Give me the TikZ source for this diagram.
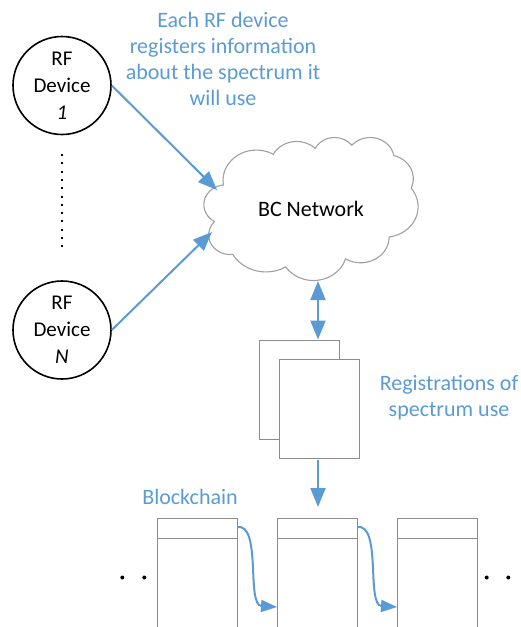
\documentclass[tikz,border=0pt]{standalone}
\usepackage{fontspec}
\setmainfont{Carlito}
\usetikzlibrary{arrows.meta}
\definecolor{ablue}{HTML}{5B9BD5}
\definecolor{pgray}{HTML}{8C8C8C}
\definecolor{cgray}{HTML}{A0A0A0}
\newcommand\mkarc[5]{%
  \pgfmathsetmacro\tmpS{atan2((#2)*sin(#4),(#3)*cos(#4))}%
  \pgfmathsetmacro\tmpE{atan2((#2)*sin((#4)+(#5)),(#3)*cos((#4)+(#5)))}%
  \pgfmathsetmacro\tmpE{\tmpE<\tmpS ? \tmpE+360 : \tmpE}%
  \expandafter\xdef\csname arcS#1\endcsname{\tmpS}%
  \expandafter\xdef\csname arcE#1\endcsname{\tmpE}}
\mkarc{a}{67.53}{91.90}{-190.4875}{123.7805}
\mkarc{b}{53.33}{72.67}{-144.1024}{89.9452}
\mkarc{c}{43.65}{59.45}{-145.8079}{99.7230}
\mkarc{d}{48.57}{65.95}{-130.9861}{117.2417}
\mkarc{e}{53.33}{72.73}{-78.7089}{109.0269}
\mkarc{f}{67.75}{92.20}{-46.2673}{130.2690}
\mkarc{g}{57.85}{78.67}{0.6250}{114.0333}
\mkarc{h}{67.52}{92.15}{22.4516}{115.1726}
\mkarc{i}{77.20}{105.43}{66.2426}{75.7110}
\mkarc{j}{43.60}{59.18}{-274.9421}{146.7356}
\mkarc{k}{43.45}{59.45}{-246.8285}{152.5189}
\newcommand\oa[3]{arc[x radius=#1,y radius=#2,start angle=\csname arcS#3\endcsname,end angle=\csname arcE#3\endcsname]}
\tikzset{
  dev/.style={circle,draw=black,line width=1.6pt,minimum size=98pt,inner sep=0pt,align=center,font=\fontsize{21}{27}\selectfont},
  conn/.style={draw=ablue,line width=2pt,-{Triangle[length=19pt,width=15pt]}},
  lbl/.style={text=ablue,align=center,font=\fontsize{22}{26}\selectfont},
  paper/.style={draw=pgray,fill=white,line width=0.9pt},
  blk/.style={draw=pgray,line width=0.9pt}
}
\begin{document}
\begin{tikzpicture}[x=1pt,y=-1pt]
\useasboundingbox (0,0) rectangle (521,627);
\clip (0,0) rectangle (521,627);
% devices
\node[dev] (d1) at (62,85.5) {RF\\Device\\\textit{1}};
\node[dev] (dn) at (62,330) {RF\\Device\\\textit{N}};
\coordinate (dt) at (62,154);
\coordinate (db) at (62,247);
\draw[line width=2pt,dash pattern=on 2pt off 6.3pt] (dt) -- (db);
% label
\node[lbl] (l1) at (223,59) {Each RF device\\registers information\\about the spectrum it\\will use};
% cloud
\begin{scope}[shift={(204,137)},x=0.4954pt,y=-0.3310pt]
\draw[draw=cgray,fill=white,line width=1.1pt] (39,143.7)
  \oa{67.53}{91.90}{a} \oa{53.33}{72.67}{b} \oa{43.65}{59.45}{c}
  \oa{48.57}{65.95}{d} \oa{53.33}{72.73}{e} \oa{67.75}{92.20}{f}
  \oa{57.85}{78.67}{g} \oa{67.52}{92.15}{h} \oa{77.20}{105.43}{i}
  \oa{43.60}{59.18}{j} \oa{43.45}{59.45}{k} -- cycle;
\end{scope}
\node[font=\fontsize{22}{26}\selectfont] (bc) at (311,209) {BC Network};
\coordinate (c1) at (217,190);
\coordinate (cn) at (212,232);
\draw[conn] (d1.east) -- (c1);
\draw[conn] (dn.east) -- (cn);
% papers
\node[paper,minimum width=80pt,minimum height=99pt,inner sep=0pt] (p1) at (299,389.5) {};
\node[paper,minimum width=80pt,minimum height=99pt,inner sep=0pt] (p2) at (319,408.8) {};
\coordinate (ct) at (318,281);
\draw[draw=ablue,line width=2pt,{Triangle[length=19pt,width=15pt]}-{Triangle[length=19pt,width=15pt]}] (ct) -- (p1.north -| ct);
\node[lbl] (l2) at (449,398) {Registrations of\\spectrum use};
% blockchain
\node[lbl] (l3) at (190,497) {Blockchain};
\foreach \i/\x in {1/197,2/317,3/437}{
  \node[blk,minimum width=80pt,minimum height=120pt,inner sep=0pt,anchor=north] (b\i) at (\x,518) {};
  \draw[blk] (b\i.north west) ++(0,20) coordinate (h\i) -- ++(80,0);
}
\coordinate (bt) at (318,460);
\coordinate (bb) at (318,507);
\draw[conn] (bt) -- (bb);
\coordinate (s1) at (237,527);
\coordinate (e1) at (277,607);
\coordinate (s2) at (357,527);
\coordinate (e2) at (397,607);
\draw[conn,-{Triangle[length=16pt,width=12pt]}] (s1) .. controls (262,523) and (246,605) .. (e1);
\draw[conn,-{Triangle[length=16pt,width=12pt]}] (s2) .. controls (382,523) and (366,605) .. (e2);
% dots
\foreach \n/\x in {a/122.3,b/144.3,c/486.7,d/508.3}{
  \node[circle,fill=black,inner sep=0pt,minimum size=4pt] (dot\n) at (\x,577.5) {};
}
\end{tikzpicture}
\end{document}
